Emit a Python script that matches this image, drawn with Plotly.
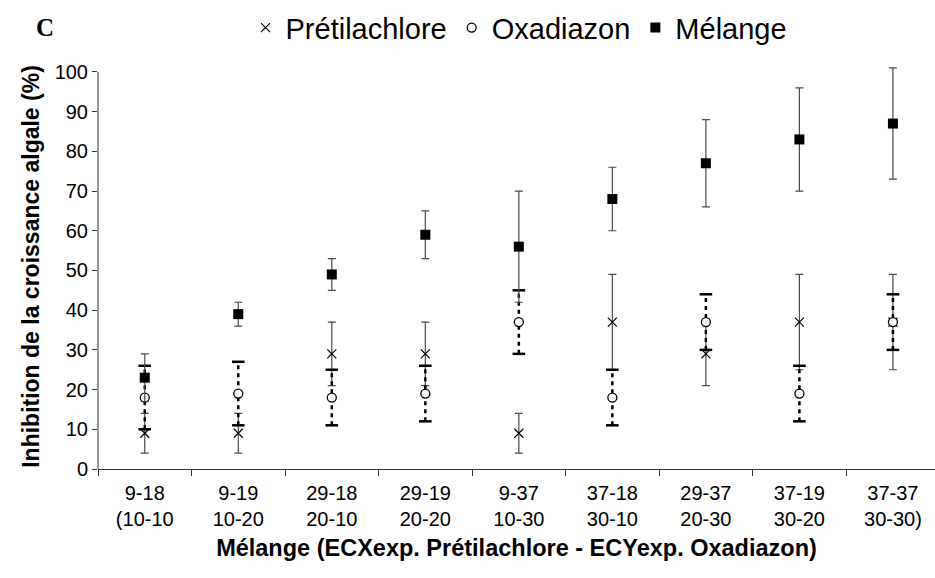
import plotly.graph_objects as go

# Mixtures: ECX exp. prétilachlore - ECY exp. oxadiazon (concentrations, then effect levels)
categories = [
    "9-18<br>(10-10", "9-19<br>10-20", "29-18<br>20-10", "29-19<br>20-20",
    "9-37<br>10-30", "37-18<br>30-10", "29-37<br>20-30", "37-19<br>30-20",
    "37-37<br>30-30)",
]

# Inhibition of algal growth (%) and standard deviations
pretilachlore = [9, 9, 29, 29, 9, 37, 29, 37, 37]
pretilachlore_sd = [5, 5, 8, 8, 5, 12, 8, 12, 12]

oxadiazon = [18, 19, 18, 19, 37, 18, 37, 19, 37]
oxadiazon_sd = [8, 8, 7, 7, 8, 7, 7, 7, 7]

melange = [23, 39, 49, 59, 56, 68, 77, 83, 87]
melange_sd = [6, 3, 4, 6, 14, 8, 11, 13, 14]

y_ticks = list(range(0, 101, 10))

FONT = "Liberation Sans, Arial, sans-serif"
ERR_COLOR = "#4a4a4a"

fig = go.Figure()

# Prétilachlore: crosses with thin solid error bars
fig.add_trace(go.Scatter(
    x=categories, y=pretilachlore, mode="markers", name="Prétilachlore",
    marker=dict(symbol="x-thin-open", size=9, color="black",
                line=dict(color="black", width=1.2)),
    error_y=dict(type="data", array=pretilachlore_sd, visible=True,
                 color=ERR_COLOR, thickness=1.2, width=4),
    cliponaxis=False,
))

# Oxadiazon: dotted, thick error bars drawn as segments with wide caps
seg_x, seg_y = [], []
for c, v, e in zip(categories, oxadiazon, oxadiazon_sd):
    seg_x += [c, c, None]
    seg_y += [v - e, v + e, None]
fig.add_trace(go.Scatter(
    x=seg_x, y=seg_y, mode="lines", showlegend=False, hoverinfo="skip",
    line=dict(color="black", width=2.5, dash="4px,4px"),
    connectgaps=False,
))
cap_x = categories + categories
cap_y = [v + e for v, e in zip(oxadiazon, oxadiazon_sd)] + \
        [v - e for v, e in zip(oxadiazon, oxadiazon_sd)]
fig.add_trace(go.Scatter(
    x=cap_x, y=cap_y, mode="markers", showlegend=False, hoverinfo="skip",
    marker=dict(symbol="line-ew", size=9, line=dict(color="black", width=2.5)),
))
fig.add_trace(go.Scatter(
    x=categories, y=oxadiazon, mode="markers", name="Oxadiazon",
    marker=dict(symbol="circle", size=9, color="white",
                line=dict(color="black", width=1.3)),
))

# Mélange: filled squares with thin solid error bars
fig.add_trace(go.Scatter(
    x=categories, y=melange, mode="markers", name="Mélange",
    marker=dict(symbol="square", size=10, color="black"),
    error_y=dict(type="data", array=melange_sd, visible=True,
                 color=ERR_COLOR, thickness=1.2, width=4),
    cliponaxis=False,
))

# Left axis line stops at 100 %
fig.add_shape(type="line", xref="paper", yref="y", x0=0, x1=0, y0=0, y1=100,
              line=dict(color="#333333", width=1))

fig.add_annotation(
    text="<b>C</b>", xref="paper", yref="paper", x=-0.063, y=1.089,
    xanchor="center", yanchor="middle",
    showarrow=False, font=dict(family="Liberation Serif, Times New Roman, serif",
                               size=25, color="black"),
)

fig.update_layout(
    width=935, height=578,
    margin=dict(l=98, r=0, t=64, b=109),
    paper_bgcolor="white", plot_bgcolor="white",
    font=dict(family=FONT, color="black", size=20),
    showlegend=True,
    legend=dict(
        orientation="h", xref="paper", yref="container",
        x=0.503, xanchor="center", y=0.952, yanchor="middle",
        font=dict(family=FONT, size=29, color="black"),
        itemwidth=30, tracegroupgap=0,
    ),
    xaxis=dict(
        type="category", categoryorder="array", categoryarray=categories,
        range=[-0.5, 8.45],
        showline=True, linecolor="#333333", linewidth=1,
        ticks="outside", ticklen=6, tickcolor="#333333", tickson="boundaries",
        ticklabelstandoff=6,
        showgrid=False, zeroline=False,
        tickfont=dict(family=FONT, size=20),
        title=dict(text="<b>Mélange (ECXexp. Prétilachlore - ECYexp. Oxadiazon)</b>",
                   font=dict(family=FONT, size=23.5), standoff=10),
    ),
    yaxis=dict(
        range=[0, 102], autorange=False,
        tickvals=y_ticks, ticks="outside", ticklen=5, tickcolor="#333333",
        showline=False, showgrid=False, zeroline=False,
        tickfont=dict(family=FONT, size=20),
        title=dict(text="<b>Inhibition de la croissance algale (%)</b>",
                   font=dict(family=FONT, size=23), standoff=8),
    ),
)

fig.write_html("out.html")
